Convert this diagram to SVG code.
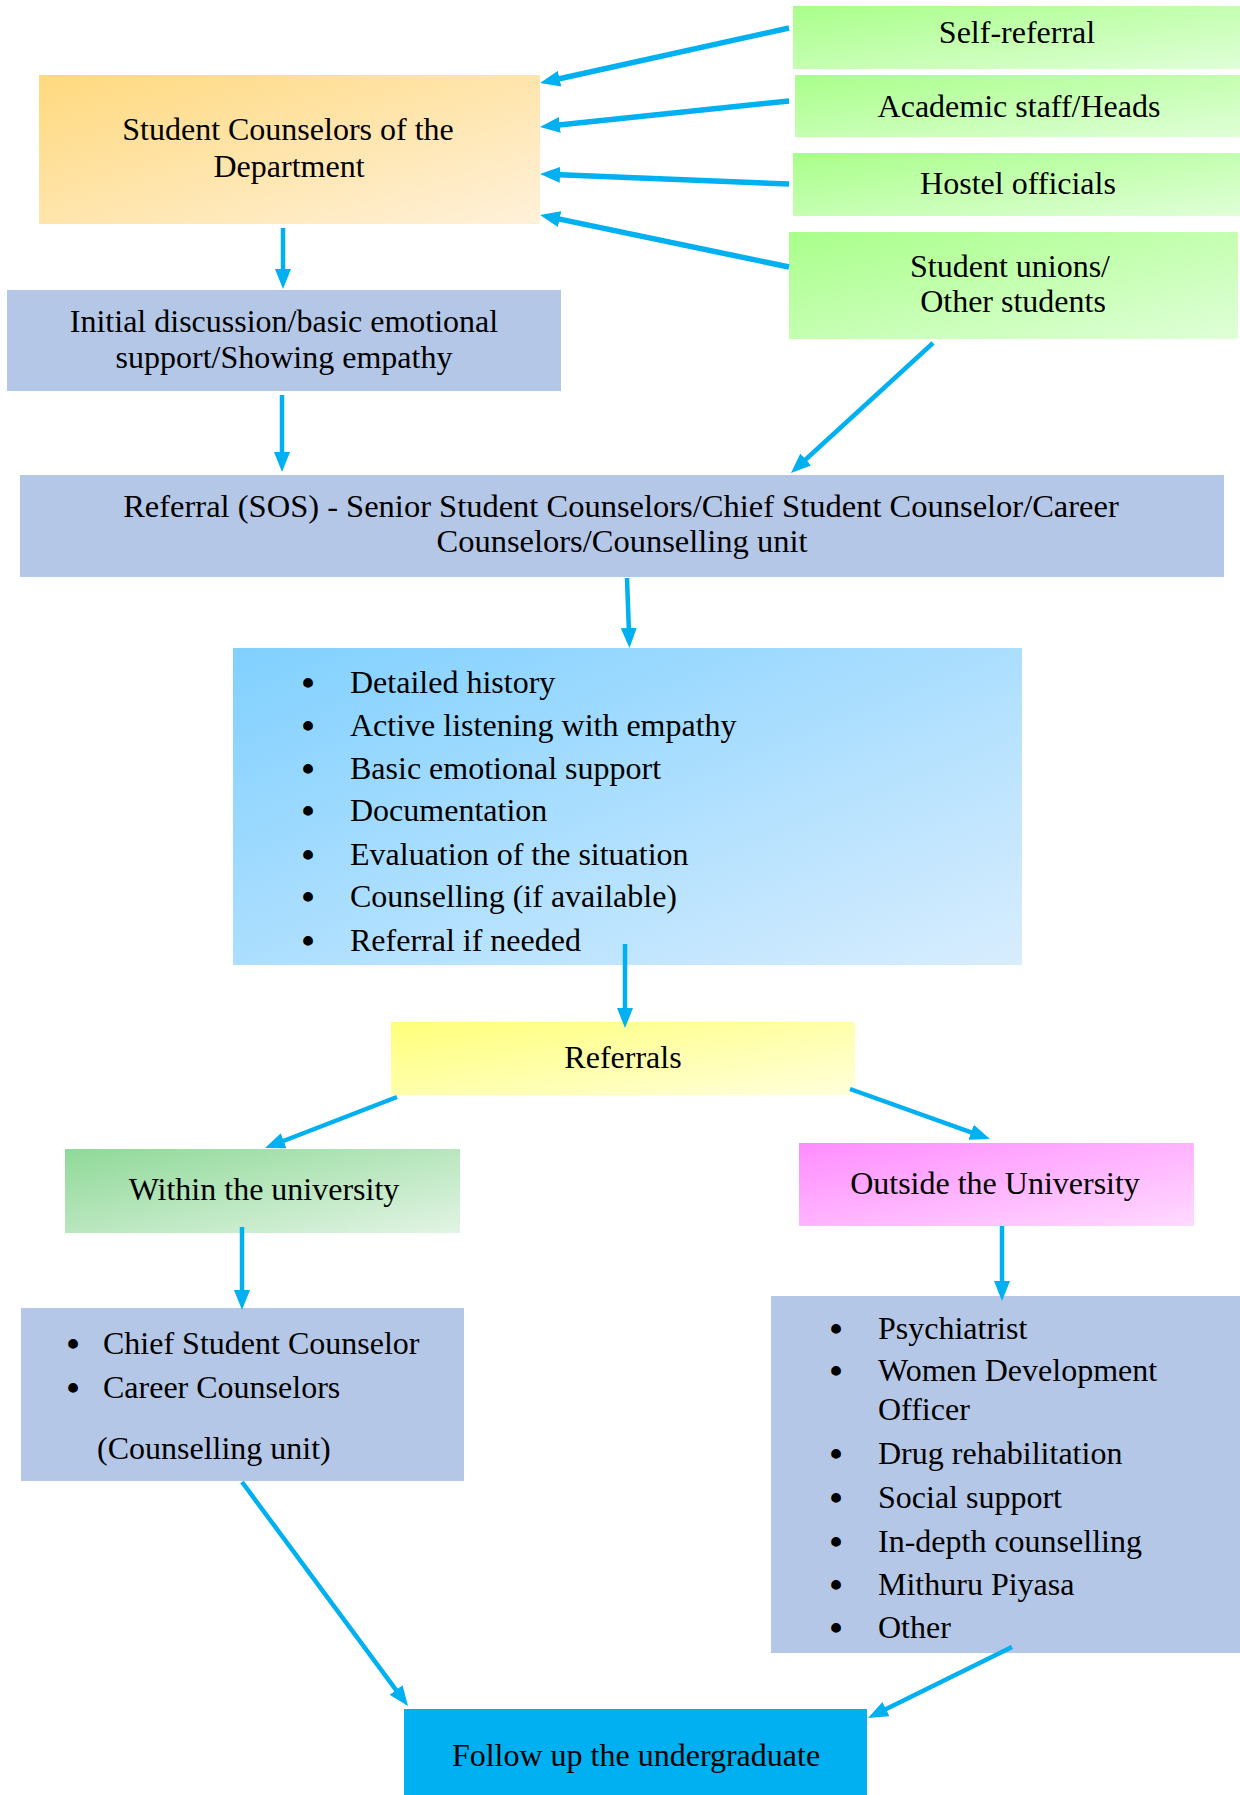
<svg xmlns="http://www.w3.org/2000/svg" width="1240" height="1795" viewBox="0 0 1240 1795">
<defs>
<linearGradient id="gOrange" x1="0" y1="0" x2="1" y2="1"><stop offset="0" stop-color="#FFD97E"/><stop offset="1" stop-color="#FFF1DA"/></linearGradient>
<linearGradient id="gGreen" x1="0" y1="0" x2="1" y2="1"><stop offset="0" stop-color="#A9FF8A"/><stop offset="1" stop-color="#E0FFD8"/></linearGradient>
<linearGradient id="gSky" x1="0" y1="0" x2="1" y2="1"><stop offset="0" stop-color="#80D0FF"/><stop offset="1" stop-color="#D8EDFE"/></linearGradient>
<linearGradient id="gYellow" x1="0" y1="0" x2="1" y2="1"><stop offset="0" stop-color="#FFFF7A"/><stop offset="1" stop-color="#FFFFDC"/></linearGradient>
<linearGradient id="gMint" x1="0" y1="0" x2="1" y2="1"><stop offset="0" stop-color="#8FD998"/><stop offset="1" stop-color="#E2F4E4"/></linearGradient>
<linearGradient id="gPink" x1="0" y1="0" x2="1" y2="1"><stop offset="0" stop-color="#FF8CFF"/><stop offset="1" stop-color="#FFDAFF"/></linearGradient>
<marker id="ah" markerUnits="userSpaceOnUse" markerWidth="20" markerHeight="16" refX="6" refY="8" orient="auto"><path d="M0,0 L20,8 L0,16 z" fill="#00B0F0"/></marker>
</defs>
<style>
text{font-family:"Liberation Serif","Times New Roman",serif;font-size:32px;fill:#000}
.c{text-anchor:middle}
.b{text-anchor:middle;font-size:36px;font-weight:bold}
.sos{font-size:32.5px}
.conn line{stroke:#00B0F0;stroke-width:4.5;fill:none;marker-end:url(#ah)}
.conn line.thick{stroke-width:5.5}
.blue{fill:#B4C7E7}
</style>

<g id="self-referral"><rect x="793" y="6" width="447" height="63" fill="url(#gGreen)"/><text class="c" x="1017" y="43">Self-referral</text></g>
<g id="academic-staff"><rect x="795" y="75" width="445" height="62" fill="url(#gGreen)"/><text class="c" x="1019" y="117">Academic staff/Heads</text></g>
<g id="hostel-officials"><rect x="793" y="153" width="447" height="63" fill="url(#gGreen)"/><text class="c" x="1018" y="194">Hostel officials</text></g>
<g id="student-unions"><rect x="789" y="232" width="449" height="107" fill="url(#gGreen)"/><text class="c" x="1010" y="277">Student unions/</text><text class="c" x="1013" y="312">Other students</text></g>

<g id="student-counselors"><rect x="39" y="75" width="501" height="149" fill="url(#gOrange)"/><text class="c" x="288" y="140">Student Counselors of the</text><text class="c" x="289" y="177">Department</text></g>

<g id="initial-discussion"><rect x="7" y="290" width="554" height="101" class="blue"/><text class="c" x="284" y="332">Initial discussion/basic emotional</text><text class="c" x="284" y="368">support/Showing empathy</text></g>

<g id="referral-sos"><rect x="20" y="475" width="1204" height="102" class="blue"/><text class="c sos" x="621" y="517">Referral (SOS) - Senior Student Counselors/Chief Student Counselor/Career</text><text class="c sos" x="622" y="552">Counselors/Counselling unit</text></g>

<g id="assessment"><rect x="233" y="648" width="789" height="317" fill="url(#gSky)"/>
<text class="b" x="308" y="695">•</text><text x="350" y="693">Detailed history</text>
<text class="b" x="308" y="738">•</text><text x="350" y="736">Active listening with empathy</text>
<text class="b" x="308" y="781">•</text><text x="350" y="779">Basic emotional support</text>
<text class="b" x="308" y="823">•</text><text x="350" y="821">Documentation</text>
<text class="b" x="308" y="867">•</text><text x="350" y="865">Evaluation of the situation</text>
<text class="b" x="308" y="909">•</text><text x="350" y="907">Counselling (if available)</text>
<text class="b" x="308" y="953">•</text><text x="350" y="951">Referral if needed</text>
</g>

<g id="referrals"><rect x="391" y="1022" width="464" height="73" fill="url(#gYellow)"/><text class="c" x="623" y="1068">Referrals</text></g>

<g id="within"><rect x="65" y="1149" width="395" height="84" fill="url(#gMint)"/><text class="c" x="264" y="1200">Within the university</text></g>

<g id="outside"><rect x="799" y="1143" width="395" height="83" fill="url(#gPink)"/><text class="c" x="995" y="1194">Outside the University</text></g>

<g id="within-list"><rect x="21" y="1308" width="443" height="173" class="blue"/>
<text class="b" x="73" y="1356">•</text><text x="103" y="1354">Chief Student Counselor</text>
<text class="b" x="73" y="1400">•</text><text x="103" y="1398">Career Counselors</text>
<text x="97" y="1459">(Counselling unit)</text>
</g>

<g id="outside-list"><rect x="771" y="1296" width="469" height="357" class="blue"/>
<text class="b" x="836" y="1341">•</text><text x="878" y="1339">Psychiatrist</text>
<text class="b" x="836" y="1383">•</text><text x="878" y="1381">Women Development</text>
<text x="878" y="1420">Officer</text>
<text class="b" x="836" y="1466">•</text><text x="878" y="1464">Drug rehabilitation</text>
<text class="b" x="836" y="1510">•</text><text x="878" y="1508">Social support</text>
<text class="b" x="836" y="1554">•</text><text x="878" y="1552">In-depth counselling</text>
<text class="b" x="836" y="1597">•</text><text x="878" y="1595">Mithuru Piyasa</text>
<text class="b" x="836" y="1640">•</text><text x="878" y="1638">Other</text>
</g>

<g id="follow-up"><rect x="404" y="1709" width="463" height="86" fill="#00B0F0"/><text class="c" x="636" y="1766">Follow up the undergraduate</text></g>

<g class="conn" id="connectors">
<line class="thick" x1="789" y1="28" x2="553.7" y2="80"/>
<line class="thick" x1="789" y1="101" x2="553.9" y2="125.5"/>
<line class="thick" x1="789" y1="184" x2="554" y2="174.6"/>
<line class="thick" x1="789" y1="267" x2="553.7" y2="217.9"/>
<line x1="283" y1="228" x2="283" y2="275"/>
<line x1="282" y1="395" x2="282" y2="458"/>
<line x1="933" y1="343" x2="801.3" y2="463.5"/>
<line x1="627" y1="578" x2="629" y2="634"/>
<line x1="625" y1="944" x2="625" y2="1014"/>
<line x1="397" y1="1097" x2="278.1" y2="1143"/>
<line x1="850" y1="1089" x2="976.8" y2="1134.3"/>
<line x1="242" y1="1227" x2="242" y2="1296"/>
<line x1="1002" y1="1226" x2="1002" y2="1287"/>
<line x1="242" y1="1482" x2="399.7" y2="1694.8"/>
<line x1="1012" y1="1647" x2="880.6" y2="1711.8"/>
</g>
</svg>
